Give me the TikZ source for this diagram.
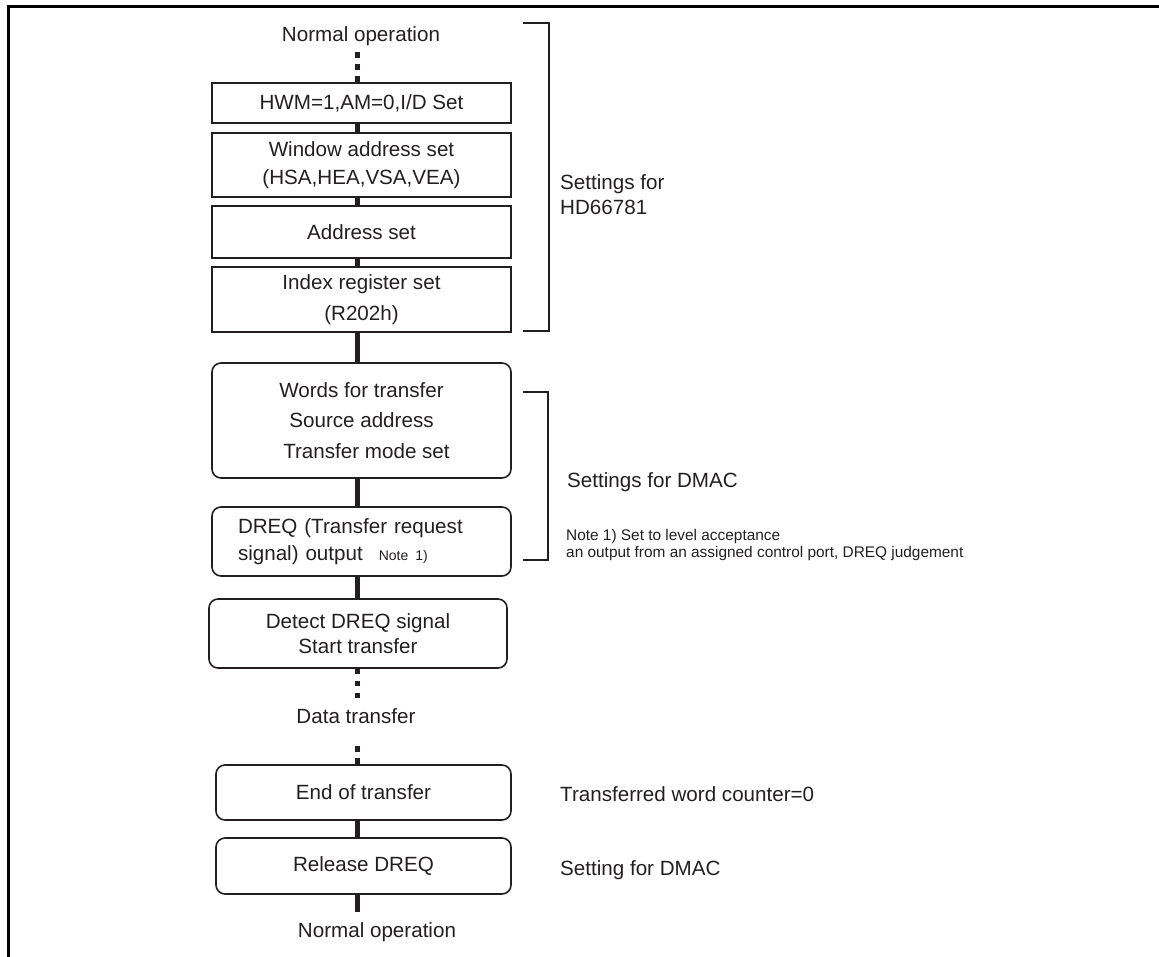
\documentclass[tikz,border=0pt]{standalone}
\usepackage{fontspec}
\setmainfont{Liberation Sans}
\usetikzlibrary{positioning,calc}
\definecolor{ink}{RGB}{35,31,32}

\begin{document}
\begin{tikzpicture}[x=1pt,y=-1pt,
    every node/.style={text=ink,font=\fontsize{20.6}{28}\selectfont},
    stepbox/.style={draw=ink,line width=1.6pt,minimum width=299pt,inner sep=0pt,align=center},
    roundbox/.style={stepbox,rounded corners=9pt},
    flowtext/.style={inner sep=0pt},
    flow/.style={ink,line width=5pt},
    dotflow/.style={ink,line width=5pt,dash pattern=on 6pt off 6pt},
    brace/.style={ink,line width=1.5pt},
    sidenote/.style={inner sep=0pt,align=left,anchor=west}]
  \useasboundingbox (0,0) rectangle (1159,957);
  \draw[black,line width=3pt] (8.5,957) |- (1159,6.5);

  % flow
  \coordinate (spine) at (357,0);
  \node[flowtext] (top) at (361,36) {Normal operation};
  \node[stepbox,minimum height=40pt] (b1) at (361.5,103) {HWM=1,AM=0,I/D Set};
  \node[stepbox,minimum height=64pt] (b2) at (361.5,165) {Window address set\\(HSA,HEA,VSA,VEA)};
  \node[stepbox,minimum height=52pt] (b3) at (361.5,232) {Address set};
  \node[stepbox,minimum height=65pt,font=\fontsize{20.6}{31}\selectfont] (b4) at (361.5,299.5) {Index register set\\(R202h)};
  \node[roundbox,minimum height=115pt,font=\fontsize{20.6}{30.5}\selectfont] (b5) at (361.5,420.5) {Words for transfer\\Source address\hspace{8pt}\\\hspace{10pt}Transfer mode set};
  \node[roundbox,minimum height=69pt,align=left,text width=247pt,font=\fontsize{20.6}{27}\selectfont] (b6) at (361.5,541.5)
    {DREQ (Transfer request\\signal) output\hspace{16pt}{\fontsize{14}{14}\selectfont Note 1)}};
  \node[roundbox,minimum width=298pt,minimum height=69pt,font=\fontsize{20.6}{25}\selectfont] (b7) at (358,633.5) {Detect DREQ signal\\Start transfer\hspace{20pt}};
  \node[flowtext] (dt) at (356,716) {Data transfer};
  \node[roundbox,minimum width=295pt,minimum height=55pt] (b8) at (363.5,792.5) {End of transfer};
  \node[roundbox,minimum width=295pt,minimum height=56pt] (b9) at (363.5,866) {Release DREQ};
  \node[flowtext] (bot) at (377,932) {Normal operation};

  \draw[dotflow,shorten >=5pt] (b1.north -| spine) -- (top.south -| spine);
  \foreach \a/\b in {b1/b2,b2/b3,b3/b4,b4/b5,b5/b6,b6/b7,b8/b9}
    \draw[flow] (\a.south -| spine) -- (\b.north -| spine);
  \draw[dotflow,dash pattern=on 5pt off 7pt,shorten >=4pt] (b7.south -| spine) -- (dt.north -| spine);
  \draw[dotflow,shorten >=20pt] (b8.north -| spine) -- (dt.south -| spine);
  \draw[flow,shorten >=10pt] (b9.south -| spine) -- (bot.north -| spine);

  % brackets and notes
  \draw[brace] (523,23) -| (549,331) -- (523,331);
  \draw[brace] (523,392) -| (548,560) -- (523,560);
  \node[sidenote,font=\fontsize{20.6}{25}\selectfont] (hdset) at (560,194.5) {Settings for\\HD66781};
  \node[sidenote] (dmacset) at (567,482) {Settings for DMAC};
  \node[sidenote,font=\fontsize{15.4}{17}\selectfont] (note) at (566,545.5)
    {Note 1) Set to level acceptance\\an output from an assigned control port, DREQ judgement};
  \node[sidenote] (count) at (560,794) {Transferred word counter=0};
  \node[sidenote] (release) at (560,870) {Setting for DMAC};
\end{tikzpicture}
\end{document}
